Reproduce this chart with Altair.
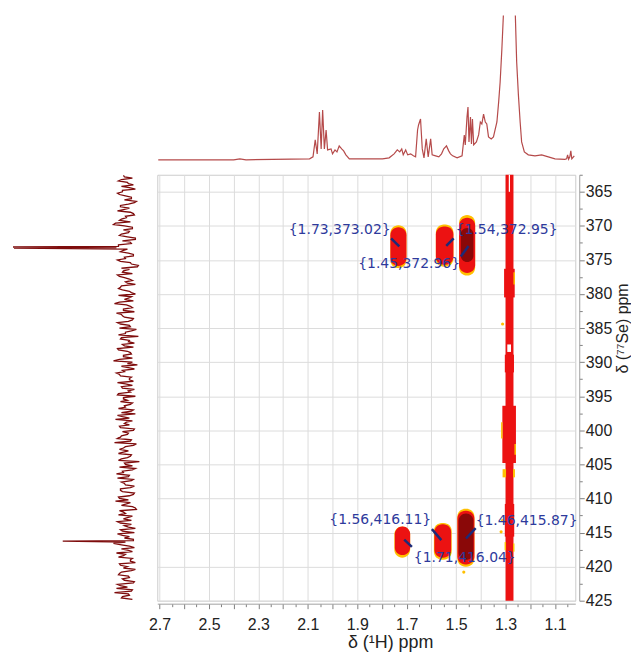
import altair as alt
import pandas as pd

# ---------------- 1H projection (top trace) ----------------
h_ppm = [2.705, 2.40, 2.375, 2.35, 2.093, 2.079, 2.070, 2.062, 2.053, 2.046, 2.040, 2.033,
         2.026, 2.020, 2.006, 2.000, 1.990, 1.982, 1.973, 1.963, 1.955, 1.946, 1.932, 1.798,
         1.771, 1.751, 1.738, 1.728, 1.720, 1.714, 1.704, 1.696, 1.684, 1.673, 1.664, 1.656,
         1.652, 1.648, 1.644, 1.637, 1.630, 1.621, 1.613, 1.603, 1.597, 1.583, 1.570, 1.559,
         1.550, 1.539, 1.530, 1.523, 1.514, 1.496, 1.476, 1.467, 1.463, 1.456, 1.452, 1.448,
         1.442, 1.438, 1.434, 1.429, 1.418, 1.409, 1.402, 1.396, 1.389, 1.382, 1.376, 1.369,
         1.358, 1.349, 1.335, 1.328, 1.322, 1.315, 1.308, 1.295, 1.284, 1.272, 1.261, 1.255,
         1.248, 1.241, 1.235, 1.224, 1.208, 1.181, 1.154, 1.127, 1.100, 1.060, 1.053, 1.049,
         1.045, 1.040, 1.036, 1.032, 1.022]
h_int = [0, 0, 1, 0, 1, 3, 20, 6, 48, 11, 50, 11,
         30, 10, 11, 6, 10, 8, 14, 11, 9, 5, 1, 1,
         2, 6, 10, 8, 11, 5, 10, 5, 6, 4, 3, 30,
         35, 38, 41, 11, 2, 21, 3, 21, 5, 4, 3, 6,
         11, 14, 9, 6, 4, 2, 4, 25, 15, 43, 53, 18,
         43, 16, 41, 15, 18, 25, 38, 36, 46, 38, 36, 23,
         21, 23, 38, 58, 78, 111, 150, 320, 400, 320, 150, 98,
         65, 38, 18, 8, 5, 4, 5, 3, 1, 0.5, 1, 5,
         0.5, 3, 9, 1, 4]

# ---------------- 77Se projection (left trace) ----------------
se_start = 362.6
se_step = 0.4
se_noise_a = [3, -6, 8, -2, 5, -9, 4, 7, -5, 2, -8, 6, -3,
              9, -7, 1, 5, -4, 13, -6, 3, -2, 7, -9, 4, -5,
              8, -1, 6, -7, 2, 9, -4, -12, 5, 3, -6, 7, -3,
              1, -9, 6, 4, -5, 8, -2, -7, 12, -4, 3, -8, 5,
              2, -6, 9, -3, 7, -5, 1, -12, 6, -2, 4, -7, 8,
              -4, 3, -6, 13, -1, 5, -8, 2, 7, -5, -3, 9, -6,
              4, -2, 8, -9, 3, 6, -4, 1, -7, 5, 9, -3, -6,
              2, 7, -8, 4, -1, 6, -5, 12, -7, 3, -2, 8, -4,
              5, -13, 1, 7, -6, 3, -3, 9, -5, 2, -8, 6, 4,
              -7, 8, -2, -4, 5, -9, 7, 1, -6, 3, 9, -5, -2,
              6, -8, 4, 2, -7, 13, -3, 5, -6, 1, 8, -4, -9,
              6, 3, -5, 7, -2, 4, -8, 9, -1, -6, 12, -3, 5]
se_noise_b = [2, 5, -1, -7, -3, 4, 9, 1, -5, -10, -2, 6, 3,
              -4, -8, 0, 7, 11, 2, -6, -3, 5, -1, -9, -4, 8,
              10, 3, -2, -7, 1, 6, -5, -11, -3, 4, 9, 2, -6,
              -1, 5, 8, -3, -9, -5, 2, 7, 0, -6, 3, 10, 4,
              -7, -2, 6, -4, -10, 1, 8, 5, -3, -8, 2, 9, -1,
              -5, 3, 7, -6, -11, -2, 4, 10, 6, -3, -7, 1, 5,
              -8, -4, 9, 3, -1, -6, 2, 8, -5, -9, 4, 11, 0,
              -3, 6, -7, -2, 5, 9, -4, -10, 1, 7, 3, -5, -1,
              8, 2, -6, -9, 4, 10, -2, -7, 5, 1, -4, 6, -8,
              -3, 7, 11, 0, -6, -10, 3, 8, -1, -5, 6, 2, -9,
              4, 9, -3, -7, 1, 5, -8, -2, 10, 3, -6, -4, 7,
              -1, -9, 5, 8, -3, 2, -7, 6, 10, -5, -2, 4, -6]
se_spike_ppm = [373.1, 373.25, 416.25]
se_spike_int = [114, 113, 64]

# ---------------- cross peaks and labels ----------------
peak_h = [1.73, 1.54, 1.45, 1.56, 1.71, 1.46]
peak_se = [373.02, 372.95, 372.96, 416.11, 416.04, 415.87]
label_h = [1.765, 1.502, 1.484, 1.601, 1.671, 1.421]
label_se = [370.68, 370.68, 375.65, 413.17, 418.72, 413.32]
label_side = ["right", "left", "right", "right", "left", "left"]
lead_h = [1.763, 1.510, 1.481, 1.598, 1.679, 1.421]
lead_se = [371.85, 371.85, 374.48, 414.49, 417.11, 414.35]

Y, R, D, W = "#ffc000", "#ec1212", "#8a0808", "#ffffff"
# contour blobs: (h from, h to, Se from, Se to, colour)
blobs = [
    (1.766, 1.701, 369.9, 376.2, Y), (1.766, 1.701, 370.2, 375.9, R),
    (1.582, 1.511, 369.8, 376.0, Y), (1.582, 1.511, 370.1, 375.7, R),
    (1.488, 1.423, 368.4, 377.3, Y), (1.488, 1.423, 368.8, 376.9, R), (1.481, 1.430, 370.3, 375.3, D),
    (1.750, 1.686, 414.1, 418.7, Y), (1.748, 1.686, 414.1, 418.3, R),
    (1.590, 1.518, 413.6, 419.0, Y), (1.588, 1.520, 413.8, 418.7, R),
    (1.495, 1.426, 411.5, 420.0, Y), (1.495, 1.426, 411.8, 419.7, R), (1.490, 1.430, 412.2, 419.0, D),
]
# 1.28 ppm ridge
stripe = [
    (1.300, 1.268, 362.5, 425.0, R),
    (1.287, 1.282, 362.5, 365.0, W),
    (1.306, 1.263, 376.3, 380.5, R), (1.268, 1.262, 376.8, 378.6, Y),
    (1.293, 1.278, 387.4, 388.5, W),
    (1.303, 1.266, 388.9, 391.5, R),
    (1.313, 1.258, 396.4, 404.8, R), (1.318, 1.312, 398.8, 401.2, Y), (1.264, 1.258, 402.0, 403.6, Y),
    (1.312, 1.262, 405.7, 406.9, Y), (1.298, 1.270, 405.5, 407.2, R),
    (1.303, 1.265, 410.8, 415.6, R),
    (1.304, 1.298, 416.4, 417.6, Y), (1.270, 1.264, 416.6, 417.8, Y),
]
dot_h = [1.312, 1.312, 1.318, 1.469]
dot_se = [384.4, 413.2, 414.9, 420.8]

x_ticks = [2.7, 2.65, 2.6, 2.55, 2.5, 2.45, 2.4, 2.35, 2.3, 2.25, 2.2, 2.15, 2.1, 2.05,
           2.0, 1.95, 1.9, 1.85, 1.8, 1.75, 1.7, 1.65, 1.6, 1.55, 1.5, 1.45, 1.4, 1.35,
           1.3, 1.25, 1.2, 1.15, 1.1, 1.05]
y_ticks = [362.5, 365, 367.5, 370, 372.5, 375, 377.5, 380, 382.5, 385, 387.5, 390, 392.5,
           395, 397.5, 400, 402.5, 405, 407.5, 410, 412.5, 415, 417.5, 420, 422.5, 425]

# ---------------- data frames ----------------
h_df = pd.DataFrame({"ppm": h_ppm, "int": h_int})
se_ppm = ([se_start + se_step * i for i in range(len(se_noise_a))]
          + [se_start + se_step / 2 + se_step * i for i in range(len(se_noise_b))]
          + se_spike_ppm)
se_df = pd.DataFrame({"ppm": se_ppm, "int": se_noise_a + se_noise_b + se_spike_int})
blob_df = pd.DataFrame(blobs, columns=["h1", "h2", "s1", "s2", "c"])
stripe_df = pd.DataFrame(stripe, columns=["h1", "h2", "s1", "s2", "c"])
dot_df = pd.DataFrame({"h": dot_h, "s": dot_se})
labels = ["{%.2f,%.2f}" % (a, b) for a, b in zip(peak_h, peak_se)]
ann_df = pd.DataFrame({"label": labels, "tx": label_h, "ty": label_se, "side": label_side,
                       "lx": lead_h, "ly": lead_se, "px": peak_h, "py": peak_se})

FONT = "Liberation Sans"
xs = alt.Scale(domain=[2.709, 1.018], nice=False, zero=False)
ys = alt.Scale(domain=[362.5, 425], reverse=True, nice=False, zero=False)

major_x = "round(datum.value*100) % 10 == 0"
x_axis = alt.Axis(
    values=x_ticks, grid=True, gridColor="#dcdcdc",
    gridOpacity={"condition": {"test": major_x, "value": 1}, "value": 0},
    tickSize={"condition": {"test": major_x, "value": 5}, "value": 3},
    tickColor="#808080", domainColor="#a0a0a0", offset=3,
    labelExpr="round(datum.value*100) % 20 == 10 ? format(datum.value, '.1f') : ''",
    labelFont=FONT, labelFontSize=16, labelColor="#222222", labelPadding=8,
    labelOverlap=False, labelFlush=False,
    title="δ (¹H) ppm", titleFont=FONT, titleFontSize=18, titleFontWeight="normal",
    titleColor="#222222", titleX=234, titlePadding=1,
)
major_y = "datum.value % 5 == 0"
y_axis = alt.Axis(
    orient="right", values=y_ticks, grid=True, gridColor="#dcdcdc",
    gridOpacity={"condition": {"test": major_y, "value": 1}, "value": 0},
    tickSize={"condition": {"test": major_y, "value": 5}, "value": 3},
    tickColor="#808080", domainColor="#a0a0a0", offset=4,
    labelExpr="datum.value % 5 == 0 ? format(datum.value, 'd') : ''",
    labelFont=FONT, labelFontSize=16, labelColor="#222222", labelPadding=1,
    labelOverlap=False, labelFlush=False,
    title="δ (⁷⁷Se) ppm", titleFont=FONT, titleFontSize=16, titleFontWeight="normal",
    titleColor="#222222", titleAngle=270, titleX=43, titleY=154,
    titleBaseline="middle", titleAlign="center",
)

def rect_layer(df, radius):
    return alt.Chart(df).mark_rect(cornerRadius=radius).encode(
        x=alt.X("h1:Q", scale=xs, axis=x_axis),
        x2="h2:Q",
        y=alt.Y("s1:Q", scale=ys, axis=y_axis),
        y2="s2:Q",
        color=alt.Color("c:N", scale=None),
    )

blob_layer = rect_layer(blob_df, 8)
stripe_layer = rect_layer(stripe_df, 0)
dot_layer = alt.Chart(dot_df).mark_circle(color=Y, size=10, opacity=1).encode(
    x=alt.X("h:Q", scale=xs, axis=x_axis), y=alt.Y("s:Q", scale=ys, axis=y_axis))
lead_layer = alt.Chart(ann_df).mark_rule(color="#1c2a78", strokeWidth=2.5).encode(
    x=alt.X("lx:Q", scale=xs, axis=x_axis), x2="px:Q",
    y=alt.Y("ly:Q", scale=ys, axis=y_axis), y2="py:Q")

def text_layer(side):
    return alt.Chart(ann_df).transform_filter(alt.datum.side == side).mark_text(
        align=side, baseline="middle", font="DejaVu Sans", fontSize=14, color="#2e3a9c"
    ).encode(
        x=alt.X("tx:Q", scale=xs, axis=x_axis),
        y=alt.Y("ty:Q", scale=ys, axis=y_axis),
        text="label:N",
    )

main = alt.layer(
    blob_layer, stripe_layer, dot_layer, lead_layer, text_layer("left"), text_layer("right")
).properties(width=420, height=428, view=alt.ViewBackground(stroke="#cccccc"))

no_frame = alt.ViewBackground(stroke="transparent")

top = alt.Chart(h_df).mark_line(color="#a82a2a", strokeWidth=1.2, opacity=0.85, clip=True).encode(
    x=alt.X("ppm:Q", scale=xs, axis=None),
    y=alt.Y("int:Q", scale=alt.Scale(domain=[-10, 145], nice=False, zero=False), axis=None),
).properties(width=420, height=155, view=no_frame)

left = alt.Chart(se_df).mark_line(color="#7e0c0c", strokeWidth=1.3, clip=True).encode(
    x=alt.X("int:Q", scale=alt.Scale(domain=[-23, 118], reverse=True, nice=False, zero=False), axis=None),
    y=alt.Y("ppm:Q", scale=ys, axis=None),
    order="ppm:Q",
).properties(width=141, height=428, view=no_frame)

spacer = alt.Chart(pd.DataFrame({"a": [0]})).mark_point(opacity=0).encode(
    x=alt.X("a:Q", axis=None), y=alt.Y("a:Q", axis=None)
).properties(width=141, height=155, view=no_frame)

chart = alt.concat(
    spacer, top, left, main, columns=2,
    spacing={"row": 5, "column": 8}, align="each", bounds="flush",
).properties(
    padding={"left": 0, "top": 5, "right": 0, "bottom": 0},
    background="white",
)

chart.save("out.html", embed_options={"renderer": "svg", "actions": False})
